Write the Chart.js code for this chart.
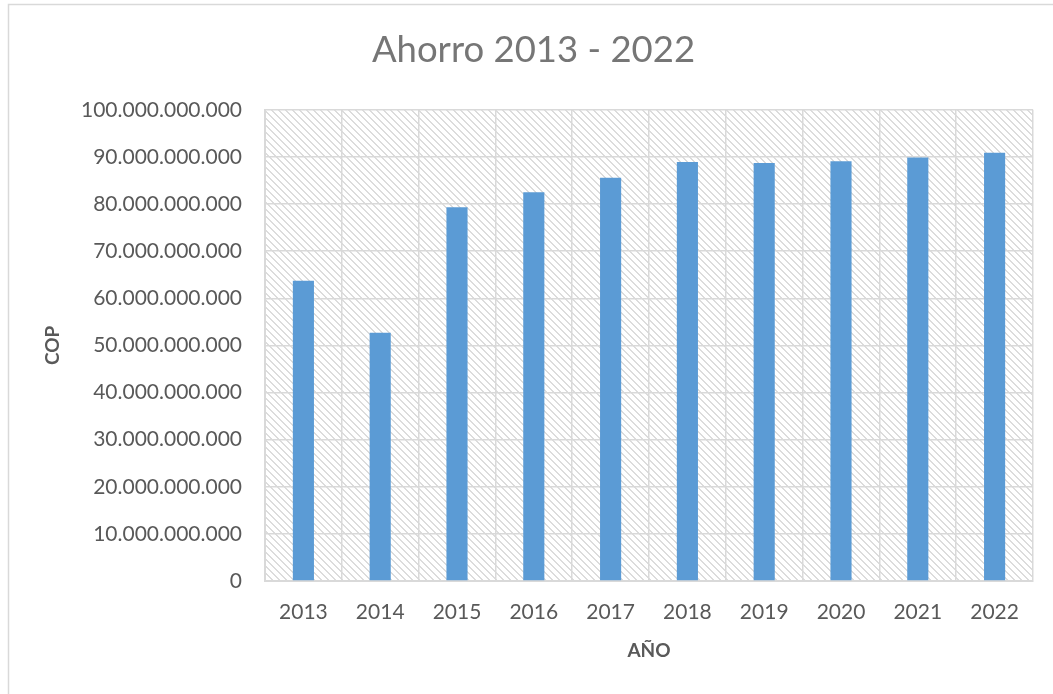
<!DOCTYPE html>
<html>
<head>
<meta charset="utf-8">
<script src="https://cdn.jsdelivr.net/npm/chart.js@4"></script>
<style>
html,body{margin:0;padding:0;background:#fff;}
#wrap{position:relative;width:1053px;height:694px;}
</style>
</head>
<body>
<div id="wrap"><canvas id="c" width="1053" height="694"></canvas></div>
<script>
const categories = ['2013','2014','2015','2016','2017','2018','2019','2020','2021','2022'];
const ahorro = [63700000000, 52700000000, 79300000000, 82500000000, 85600000000, 88900000000, 88700000000, 89100000000, 89900000000, 90900000000];
const chartTitle = 'Ahorro 2013 - 2022';
const xTitle = 'AÑO';
const yTitle = 'COP';
const yMin = 0, yMax = 100000000000, yStep = 10000000000;

function fmt(v){
  return String(Math.round(v)).replace(/\B(?=(\d{3})+(?!\d))/g, '.');
}

function makePattern(){
  const t = document.createElement('canvas');
  const s = 7;
  t.width = s; t.height = s;
  const g = t.getContext('2d');
  g.fillStyle = '#ffffff';
  g.fillRect(0,0,s,s);
  g.fillStyle = '#dcdcdc';
  for (let i = 0; i < s; i++) {
    g.fillRect(i, i, 1, 1);
    g.fillRect((i+1)%s, i, 1, 1);
  }
  return t;
}

const bgPlugin = {
  id: 'bg',
  beforeDraw(chart){
    const ctx = chart.ctx;
    const a = chart.chartArea;
    ctx.save();
    ctx.fillStyle = '#fff';
    ctx.fillRect(0,0,chart.width,chart.height);
    ctx.strokeStyle = '#d9d9d9';
    ctx.lineWidth = 1.5;
    ctx.beginPath();
    ctx.moveTo(8.5, chart.height);
    ctx.lineTo(8.5, 4.5);
    ctx.lineTo(chart.width, 4.5);
    ctx.stroke();
    const pat = ctx.createPattern(makePattern(), 'repeat');
    ctx.fillStyle = pat;
    ctx.fillRect(a.left, a.top, a.right - a.left, a.bottom - a.top);
    ctx.restore();
  }
};

new Chart(document.getElementById('c'), {
  type: 'bar',
  data: {
    labels: categories,
    datasets: [{
      data: ahorro,
      backgroundColor: '#5b9bd5',
      borderWidth: 0,
      barPercentage: 0.275,
      categoryPercentage: 1.0
    }]
  },
  plugins: [bgPlugin],
  options: {
    responsive: false,
    animation: false,
    devicePixelRatio: 1,
    layout: { padding: { left: 34, right: 20, top: 5, bottom: 0 } },
    plugins: {
      legend: { display: false },
      tooltip: { enabled: false },
      title: {
        display: true,
        text: chartTitle,
        color: '#767676',
        font: { family: 'Lato', size: 36.5, weight: 'normal', lineHeight: 1.2 },
        padding: { top: 23, bottom: 38 }
      }
    },
    scales: {
      x: {
        grid: { color: '#d9d9d9', lineWidth: 1.5, drawTicks: false, offset: true },
        border: { color: '#d9d9d9', width: 2 },
        ticks: {
          color: '#595959',
          font: { family: 'Lato', size: 21, lineHeight: 1.2 },
          padding: 19,
          maxRotation: 0, autoSkip: false
        },
        title: {
          display: true, text: xTitle, color: '#595959',
          font: { family: 'Lato', size: 19, weight: 'bold', lineHeight: 1.2 },
          padding: { top: 0, bottom: 32 }
        },
        afterFit(scale){ scale.height = 113; }
      },
      y: {
        min: yMin, max: yMax,
        grid: { color: '#d9d9d9', lineWidth: 1.5, drawTicks: false },
        border: { color: '#d9d9d9', width: 2 },
        ticks: {
          stepSize: yStep,
          color: '#595959',
          font: { family: 'Lato', size: 21, lineHeight: 1.2 },
          padding: 23,
          callback: (v) => fmt(v)
        },
        title: {
          display: true, text: yTitle, color: '#595959',
          font: { family: 'Lato', size: 19, weight: 'bold', lineHeight: 1.2 },
          padding: { top: 7, bottom: 0 }
        },
        afterFit(scale){ scale.width = 231; }
      }
    }
  }
});
</script>
</body>
</html>
